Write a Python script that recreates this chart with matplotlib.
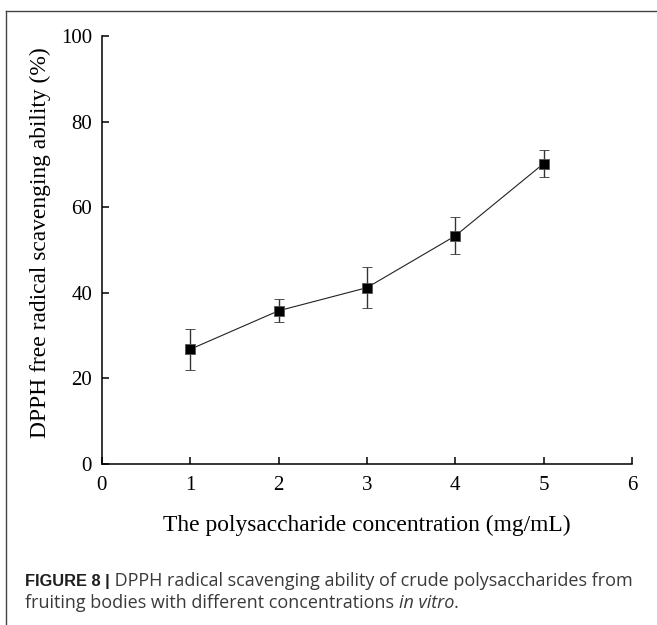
import matplotlib
matplotlib.use("Agg")
import matplotlib.pyplot as plt
from matplotlib.lines import Line2D

concentration = [1, 2, 3, 4, 5]
scavenging = [26.8, 35.8, 41.2, 53.3, 70.2]
error = [4.8, 2.7, 4.8, 4.3, 3.1]
x_ticks = [0, 1, 2, 3, 4, 5, 6]
y_ticks = [0, 20, 40, 60, 80, 100]

serif = ["Liberation Serif", "DejaVu Serif"]
sans = ["Liberation Sans", "DejaVu Sans"]
sans_reg = ["Open Sans", "Liberation Sans", "DejaVu Sans"]

fig = plt.figure(figsize=(6.57, 6.25), dpi=100)
ax = fig.add_axes([0.155, 0.2576, 0.807, 0.6848])

ax.errorbar(concentration, scavenging, yerr=error, fmt='s', color='#222222',
            mfc='black', mec='#555555', mew=0.6,
            ms=7.5, ecolor='#333333', elinewidth=1.0, capsize=3.3, capthick=1.0,
            linestyle='-', lw=0.8, zorder=3)

ax.set_xlim(0, 6)
ax.set_ylim(0, 100)
ax.set_xticks(x_ticks)
ax.set_yticks(y_ticks)
ax.spines['top'].set_visible(False)
ax.spines['right'].set_visible(False)
for s in ['left', 'bottom']:
    ax.spines[s].set_linewidth(1.1)
ax.tick_params(direction='in', length=5, width=1.1, labelsize=15)
ax.tick_params(axis='x', pad=9)
ax.tick_params(axis='y', pad=7)
for lab in ax.get_xticklabels() + ax.get_yticklabels():
    lab.set_family(serif)

ax.set_xlabel("The polysaccharide concentration (mg/mL)", fontsize=16.9,
              family=serif, va='baseline')
ax.xaxis.set_label_coords(0.5, -(531 - 464) / 428)
ax.set_ylabel("DPPH free radical scavenging ability (%)", fontsize=16.9,
              family=serif, va='bottom')
ax.yaxis.set_label_coords(-0.095, 0.518)

# frame of the figure panel
fig.add_artist(Line2D([6/657, 6/657], [0, 1 - 11/625], transform=fig.transFigure,
                      color='#444444', lw=1.0))
fig.add_artist(Line2D([6/657, 1], [1 - 11/625, 1 - 11/625], transform=fig.transFigure,
                      color='#444444', lw=1.0))

# caption with mixed styles
fig.canvas.draw()
renderer = fig.canvas.get_renderer()
cap_color = '#3a3a3a'

def put(parts, x0, y):
    x = x0
    for txt, fam, size, weight, style, color in parts:
        t = fig.text(x, y, txt, fontsize=size, family=fam, weight=weight,
                     style=style, color=color, ha='left', va='baseline')
        bb = t.get_window_extent(renderer=renderer)
        x += bb.width / fig.bbox.width

line1 = [("FIGURE 8 |", sans, 11.8, 'bold', 'normal', '#1e1e1e'),
         (" DPPH radical scavenging ability of crude polysaccharides from", sans_reg, 13.0, 'normal', 'normal', cap_color)]
line2 = [("fruiting bodies with different concentrations ", sans_reg, 13.0, 'normal', 'normal', cap_color),
         ("in vitro", sans_reg, 13.0, 'normal', 'italic', cap_color),
         (".", sans_reg, 13.0, 'normal', 'normal', cap_color)]
put(line1, 25/657, 1 - 586/625)
put(line2, 25/657, 1 - 608/625)

fig.savefig("out.png", dpi=100)
